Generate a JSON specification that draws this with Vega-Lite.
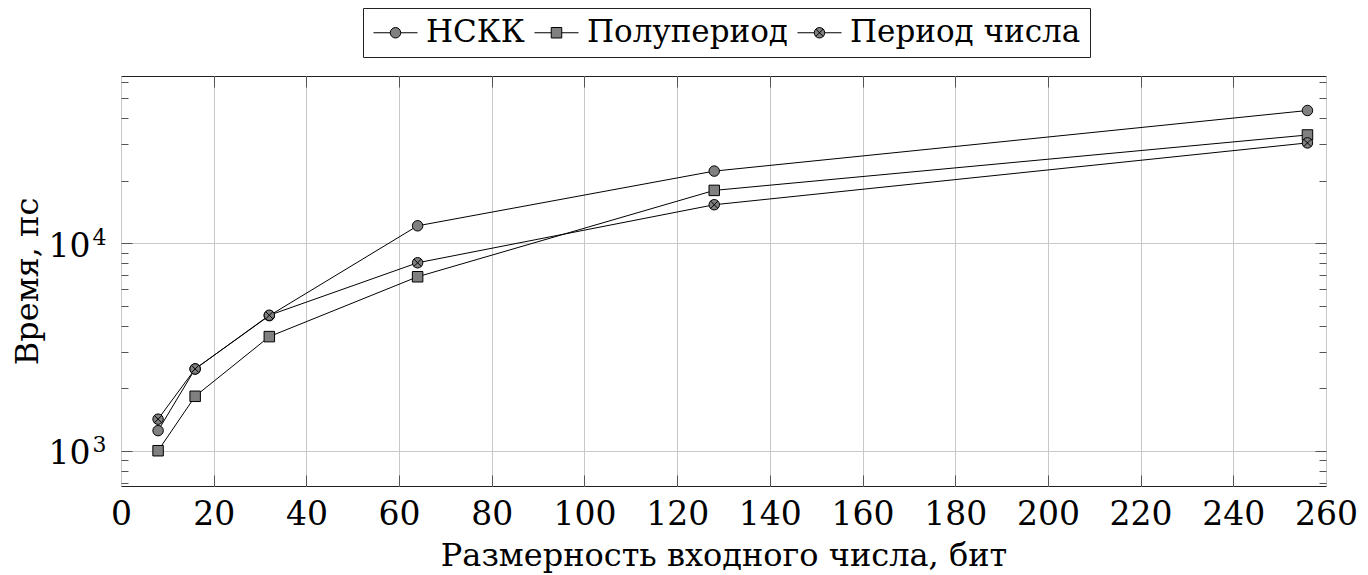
{
  "$schema": "https://vega.github.io/schema/vega-lite/v6.json",
  "autosize": "none",
  "width": 1205,
  "height": 410,
  "padding": {"left": 121, "top": 76, "right": 42, "bottom": 89},
  "background": "white",
  "config": {
    "font": "DejaVu Serif",
    "view": {"stroke": "#222", "strokeWidth": 1},
    "axis": {"labelFont": "DejaVu Serif", "titleFont": "DejaVu Serif", "labelColor": "black", "titleColor": "black", "titleFontWeight": "normal", "gridColor": "#c8c8c8", "gridWidth": 1, "tickColor": "#555", "tickWidth": 1}
  },
  "data": {"values": [
    {"x": 8, "y": 1250, "series": "НСКК"},
    {"x": 16, "y": 2480, "series": "НСКК"},
    {"x": 32, "y": 4480, "series": "НСКК"},
    {"x": 64, "y": 12150, "series": "НСКК"},
    {"x": 128, "y": 22300, "series": "НСКК"},
    {"x": 256, "y": 43700, "series": "НСКК"},
    {"x": 8, "y": 1000, "series": "Полупериод"},
    {"x": 16, "y": 1830, "series": "Полупериод"},
    {"x": 32, "y": 3550, "series": "Полупериод"},
    {"x": 64, "y": 6900, "series": "Полупериод"},
    {"x": 128, "y": 18000, "series": "Полупериод"},
    {"x": 256, "y": 33300, "series": "Полупериод"},
    {"x": 8, "y": 1420, "series": "Период числа"},
    {"x": 16, "y": 2480, "series": "Период числа"},
    {"x": 32, "y": 4500, "series": "Период числа"},
    {"x": 64, "y": 8060, "series": "Период числа"},
    {"x": 128, "y": 15350, "series": "Период числа"},
    {"x": 256, "y": 30500, "series": "Период числа"}
  ]},
  "resolve": {"axis": {"x": "independent", "y": "independent"}, "scale": {"shape": "independent", "stroke": "independent"}, "legend": {"shape": "independent", "stroke": "independent"}},
  "layer": [
    {
      "mark": {"type": "line", "color": "black", "strokeWidth": 1},
      "encoding": {
        "x": {"field": "x", "type": "quantitative", "scale": {"domain": [0, 260], "nice": false, "zero": false},
          "axis": {"orient": "bottom", "values": [0, 20, 40, 60, 80, 100, 120, 140, 160, 180, 200, 220, 240, 260], "grid": true, "ticks": false, "domain": false, "labelFlush": false, "labelFontSize": 33, "labelPadding": 12, "title": "Размерность входного числа, бит", "titleFontSize": 32, "titlePadding": 9}},
        "y": {"field": "y", "type": "quantitative", "scale": {"type": "log", "domain": [676, 64100], "nice": false},
          "axis": {"orient": "left", "values": [1000, 10000], "grid": true, "ticks": false, "domain": false, "labelExpr": "'10'", "labelFontSize": 33, "labelPadding": 31, "labelOffset": 3, "labelBaseline": "middle", "title": "Время, пс", "titleFontSize": 32, "titlePadding": 4}},
        "detail": {"field": "series"}
      }
    },
    {
      "mark": {"type": "point", "filled": true, "fill": "#808080", "stroke": "black", "strokeWidth": 1, "size": 110, "opacity": 1},
      "encoding": {
        "x": {"field": "x", "type": "quantitative", "scale": {"domain": [0, 260], "nice": false, "zero": false}, "axis": null},
        "y": {"field": "y", "type": "quantitative", "scale": {"type": "log", "domain": [676, 64100], "nice": false}, "axis": null},
        "shape": {"field": "series", "type": "nominal", "legend": null,
          "scale": {"domain": ["НСКК", "Полупериод", "Период числа"], "range": ["circle", "square", "M-1,0A1,1,0,1,0,1,0A1,1,0,1,0,-1,0ZM-0.7071,-0.7071L0.7071,0.7071M-0.7071,0.7071L0.7071,-0.7071"]}
        }
      }
    },
    {
      "mark": {"type": "point", "filled": true, "fill": "#808080", "strokeWidth": 1, "size": 110, "opacity": 0},
      "encoding": {
        "x": {"field": "x", "type": "quantitative", "scale": {"domain": [0, 260], "nice": false, "zero": false}, "axis": null},
        "y": {"field": "y", "type": "quantitative", "scale": {"type": "log", "domain": [676, 64100], "nice": false}, "axis": null},
        "stroke": {"field": "series", "type": "nominal",
          "scale": {"domain": ["НСКК", "Полупериод", "Период числа"], "range": ["black", "black", "black"]},
          "legend": {
            "title": null, "orient": "none", "legendX": 242, "legendY": -68, "direction": "horizontal", "columns": 3,
            "strokeColor": "#222", "fillColor": "white", "padding": 9, "columnPadding": 7,
            "labelFont": "DejaVu Serif", "labelFontSize": 31, "labelColor": "black", "labelLimit": 1000, "labelOffset": 15,
            "symbolSize": 110, "symbolOffset": 8, "symbolStrokeWidth": 1, "symbolFillColor": "#808080", "symbolOpacity": 1
          }
        },
        "shape": {"field": "series", "type": "nominal",
          "scale": {"domain": ["НСКК", "Полупериод", "Период числа"], "range": [
            "M-4.2,0L-1,0M1,0L4.2,0M-1,0A1,1,0,1,0,1,0A1,1,0,1,0,-1,0Z",
            "M-4.2,0L-1,0M1,0L4.2,0M-1,-1L1,-1L1,1L-1,1Z",
            "M-4.2,0L-1,0M1,0L4.2,0M-1,0A1,1,0,1,0,1,0A1,1,0,1,0,-1,0ZM-0.7071,-0.7071L0.7071,0.7071M-0.7071,0.7071L0.7071,-0.7071"]},
          "legend": {
            "title": null, "orient": "none", "legendX": 242, "legendY": -68, "direction": "horizontal", "columns": 3,
            "strokeColor": "#222", "fillColor": "white", "padding": 9, "columnPadding": 7,
            "labelFont": "DejaVu Serif", "labelFontSize": 31, "labelColor": "black", "labelLimit": 1000, "labelOffset": 15,
            "symbolSize": 110, "symbolOffset": 8, "symbolStrokeWidth": 1, "symbolFillColor": "#808080", "symbolOpacity": 1
          }
        }
      }
    },
    {
      "mark": {"type": "point", "opacity": 0},
      "encoding": {
        "x": {"field": "x", "type": "quantitative", "scale": {"domain": [0, 260], "nice": false, "zero": false},
          "axis": {"orient": "top", "values": [20, 40, 60, 80, 100, 120, 140, 160, 180, 200, 220, 240], "grid": false, "ticks": true, "tickSize": -11, "labels": false, "domain": false, "title": null}},
        "y": {"field": "y", "type": "quantitative", "scale": {"type": "log", "domain": [676, 64100], "nice": false},
          "axis": {"orient": "right", "values": [1000, 10000], "grid": false, "ticks": true, "tickSize": -11, "labels": false, "domain": false, "title": null}}
      }
    },
    {
      "mark": {"type": "point", "opacity": 0},
      "encoding": {
        "x": {"field": "x", "type": "quantitative", "scale": {"domain": [0, 260], "nice": false, "zero": false},
          "axis": {"orient": "bottom", "values": [20, 40, 60, 80, 100, 120, 140, 160, 180, 200, 220, 240], "grid": false, "ticks": true, "tickSize": -11, "labels": false, "domain": false, "title": null}},
        "y": {"field": "y", "type": "quantitative", "scale": {"type": "log", "domain": [676, 64100], "nice": false},
          "axis": {"orient": "left", "values": [1000, 10000], "grid": false, "ticks": true, "tickSize": -11, "labels": false, "domain": false, "title": null}}
      }
    },
    {
      "mark": {"type": "point", "opacity": 0},
      "encoding": {
        "x": {"field": "x", "type": "quantitative", "scale": {"domain": [0, 260], "nice": false, "zero": false}, "axis": null},
        "y": {"field": "y", "type": "quantitative", "scale": {"type": "log", "domain": [676, 64100], "nice": false},
          "axis": {"orient": "left", "values": [700, 800, 900, 2000, 3000, 4000, 5000, 6000, 7000, 8000, 9000, 20000, 30000, 40000, 50000, 60000], "grid": false, "ticks": true, "tickSize": -7, "labels": false, "domain": false, "title": null}}
      }
    },
    {
      "mark": {"type": "point", "opacity": 0},
      "encoding": {
        "x": {"field": "x", "type": "quantitative", "scale": {"domain": [0, 260], "nice": false, "zero": false}, "axis": null},
        "y": {"field": "y", "type": "quantitative", "scale": {"type": "log", "domain": [676, 64100], "nice": false},
          "axis": {"orient": "right", "values": [700, 800, 900, 2000, 3000, 4000, 5000, 6000, 7000, 8000, 9000, 20000, 30000, 40000, 50000, 60000], "grid": false, "ticks": true, "tickSize": -7, "labels": false, "domain": false, "title": null}}
      }
    },
    {
      "mark": {"type": "point", "opacity": 0},
      "encoding": {
        "x": {"field": "x", "type": "quantitative", "scale": {"domain": [0, 260], "nice": false, "zero": false}, "axis": null},
        "y": {"field": "y", "type": "quantitative", "scale": {"type": "log", "domain": [676, 64100], "nice": false},
          "axis": {"orient": "left", "values": [1000, 10000], "grid": false, "ticks": false, "labels": true, "labelExpr": "datum.value >= 10000 ? '4' : '3'", "labelFontSize": 22, "labelPadding": 15, "labelOffset": -6, "labelBaseline": "middle", "domain": false, "title": null}}
      }
    }
  ]
}
